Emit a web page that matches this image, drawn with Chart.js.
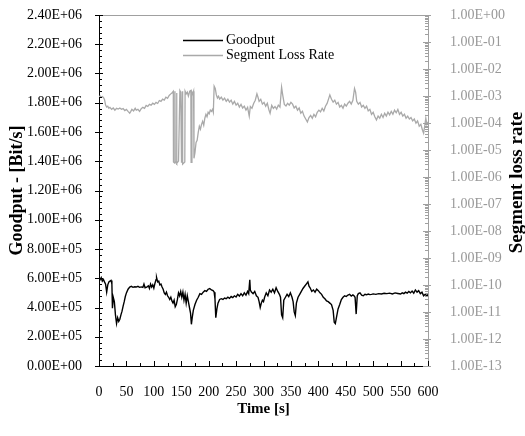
<!DOCTYPE html>
<html><head><meta charset="utf-8">
<script src="https://cdn.jsdelivr.net/npm/chart.js@4/dist/chart.umd.min.js"></script>
<style>html,body{margin:0;padding:0;background:#fff;}</style>
</head><body>
<canvas id="c" width="525" height="436"></canvas>
<script>
// ---- data ----
const goodputTime = [0,2,4,6,8,10,12,14,16,18,20,22,23.5,24.5,26,28,30,32,34,36,38,40,42,44,46,48,50,53,56,59,62,65,68,71,74,77,80,82,84,87,90,92,94,96,98,100,102,104,105,107,109,111,113,115,117,119,121,123,125,127,129,131,133,135,137,139,141,143,145,147,149,151,153,155,157,159,161,163,165,167,168.5,170,172,175,178,181,184,187,190,193,196,199,202,205,208,210,211.5,213,215,217,220,223,226,229,232,235,238,241,244,247,250,253,256,259,262,265,268,271,273,275,276,278,281,284,287,290,292,294,296,298,300,302,305,308,311,314,317,320,323,326,329,331,333,335,337,340,343,346,349,352,354,356,358,360,363,366,369,372,375,378,381,383,385,388,391,394,397,400,403,406,409,412,415,418,421,424,427,429,431,433,436,439,442,445,448,451,454,457,460,463,465,467,469,471,473,476,479,482,485,488,491,494,497,500,505,510,515,520,525,530,535,540,545,550,553,556,559,562,565,568,571,574,577,580,583,586,589,592,595,598,600];
const goodputValues = [600e3,590e3,605e3,580e3,592e3,575e3,560e3,505e3,555e3,575e3,580e3,585e3,560e3,395e3,470e3,440e3,350e3,290e3,330e3,305e3,320e3,350e3,375e3,410e3,440e3,475e3,500e3,525e3,540e3,545e3,538e3,542e3,540e3,545e3,538e3,541e3,537e3,560e3,535e3,540e3,548e3,530e3,560e3,540e3,555e3,532e3,565e3,590e3,605e3,575e3,580e3,555e3,560e3,540e3,525e3,500e3,490e3,505e3,480e3,470e3,455e3,470e3,445e3,430e3,450e3,405e3,420e3,455e3,500e3,480e3,510e3,470e3,505e3,450e3,490e3,430e3,480e3,440e3,400e3,360e3,285e3,330e3,380e3,420e3,450e3,470e3,495e3,490e3,505e3,515e3,510e3,525e3,530e3,520e3,515e3,505e3,460e3,330e3,390e3,430e3,455e3,460e3,455e3,465e3,460e3,470e3,462e3,475e3,468e3,480e3,472e3,490e3,478e3,495e3,480e3,500e3,485e3,510e3,495e3,590e3,520e3,505e3,495e3,510e3,480e3,470e3,440e3,400e3,430e3,450e3,440e3,470e3,500e3,480e3,520e3,505e3,525e3,500e3,535e3,510e3,490e3,470e3,350e3,330e3,450e3,470e3,490e3,475e3,500e3,470e3,440e3,370e3,345e3,430e3,470e3,490e3,510e3,530e3,545e3,560e3,575e3,545e3,535e3,510e3,520e3,505e3,525e3,515e3,500e3,490e3,470e3,460e3,445e3,440e3,430e3,420e3,380e3,300e3,290e3,330e3,390e3,420e3,455e3,470e3,480e3,475e3,485e3,490e3,478e3,486e3,480e3,470e3,355e3,480e3,495e3,500e3,485e3,480e3,490e3,487e3,492e3,488e3,490e3,493e3,490e3,495e3,492e3,497e3,495e3,498e3,493e3,500e3,496e3,492e3,500e3,495e3,505e3,498e3,510e3,500e3,512e3,498e3,520e3,505e3,515e3,495e3,505e3,480e3,490e3,478e3,490e3];

const lossTime = [0,2,4,6,8,10,12,14,16,18,20,23,26,29,32,35,38,41,44,47,50,53,56,58,60,63,66,68,71,74,77,80,83,86,89,92,95,98,101,104,107,110,113,116,119,122,125,128,131,133,135.5,135.8,138,138.5,139,141.2,141.6,142,145,147.5,149,150.5,152,152.5,156.5,157,159,161,163,165.5,167.5,168,169.5,171,172.5,173.2,175,177,179,181,183,185,187,189,191,193,195,197,199,201,203,205,207,208.5,210,212,214,216,218,220,223,226,229,232,235,238,241,244,247,250,253,256,259,262,265,268,271,274,276,279,282,285,288,290,292,295,298,301,304,307,310,312,315,318,321,324,327,330,333,335,338,341,344,347,350,353,356,359,362,365,368,371,374,377,380,383,386,389,392,395,398,401,404,407,410,413,416,419,421,424,427,430,433,436,439,442,445,448,451,454,457,460,463,466,468,470,473,476,479,482,485,488,491,494,497,500,503,506,509,512,515,518,521,524,527,530,533,536,539,542,545,548,551,554,557,560,563,566,569,572,575,578,581,584,587,590,592,594,596,598,600];
const lossValues = [9.0e-4,1.0e-3,9.0e-4,9.6e-4,8.8e-4,7.5e-4,4.6e-4,3.9e-4,4.2e-4,3.5e-4,3.8e-4,3.2e-4,3.6e-4,3.0e-4,3.5e-4,3.3e-4,3.6e-4,3.2e-4,3.4e-4,2.9e-4,3.2e-4,2.7e-4,2.3e-4,2.7e-4,3.2e-4,2.8e-4,3.5e-4,3.0e-4,3.2e-4,2.7e-4,3.4e-4,3.8e-4,3.5e-4,4.5e-4,4.1e-4,4.9e-4,4.6e-4,5.4e-4,4.9e-4,5.8e-4,5.3e-4,6.8e-4,6.3e-4,7.6e-4,7.0e-4,9.0e-4,8.2e-4,1.05e-3,1.2e-3,1.3e-3,1.5e-3,3.6e-6,3.3e-6,1.5e-3,3.8e-6,3.4e-6,1.3e-3,3.2e-6,3.9e-6,1.6e-3,1.4e-3,3.4e-6,1.5e-3,3.0e-6,3.6e-6,1.5e-3,1.2e-3,1.4e-3,1.0e-3,1.5e-3,1.6e-3,3.5e-6,1.4e-3,1.2e-3,1.5e-3,4.9e-6,8.0e-6,1.9e-5,2.3e-5,4.5e-5,7.6e-5,5.9e-5,8.9e-5,1.15e-4,8.3e-5,1.5e-4,2.1e-4,1.7e-4,2.5e-4,2.2e-4,3.0e-4,2.7e-4,3.2e-4,2.5e-4,2.3e-3,1.9e-3,1.1e-3,8.4e-4,9.8e-4,7.7e-4,9.0e-4,7.0e-4,8.3e-4,6.4e-4,7.6e-4,5.9e-4,7.0e-4,5.0e-4,6.3e-4,4.6e-4,5.4e-4,3.9e-4,4.9e-4,3.6e-4,4.2e-4,3.0e-4,3.8e-4,1.8e-4,4.1e-4,3.5e-4,5.3e-4,7.0e-4,1.2e-3,9.0e-4,6.3e-4,7.5e-4,5.0e-4,5.8e-4,4.2e-4,5.4e-4,3.0e-4,2.3e-4,4.5e-4,3.5e-4,4.1e-4,3.3e-4,4.6e-4,3.9e-4,2.1e-3,1.1e-3,4.9e-4,4.3e-4,5.4e-4,4.6e-4,5.8e-4,5.0e-4,3.6e-4,4.2e-4,3.0e-4,3.6e-4,2.3e-4,2.7e-4,1.8e-4,1.4e-4,1.1e-4,1.6e-4,1.9e-4,1.5e-4,2.1e-4,1.7e-4,2.5e-4,3.0e-4,2.6e-4,3.5e-4,2.8e-4,4.2e-4,5.3e-4,8.2e-4,1.1e-3,7.6e-4,5.9e-4,7.0e-4,5.0e-4,5.8e-4,3.9e-4,4.5e-4,3.5e-4,5.0e-4,4.2e-4,5.4e-4,6.3e-4,5.0e-4,6.9e-4,1.9e-3,1.4e-3,6.4e-4,5.0e-4,5.8e-4,3.9e-4,4.5e-4,3.5e-4,4.2e-4,2.8e-4,3.2e-4,2.1e-4,2.5e-4,1.7e-4,1.3e-4,1.8e-4,1.5e-4,2.1e-4,1.6e-4,2.3e-4,1.8e-4,2.5e-4,2.0e-4,2.7e-4,2.1e-4,3.0e-4,2.4e-4,3.2e-4,2.1e-4,2.5e-4,1.8e-4,2.1e-4,1.5e-4,1.8e-4,1.4e-4,1.6e-4,1.2e-4,1.4e-4,9.8e-5,1.2e-4,7.6e-5,8.9e-5,5.4e-5,4.2e-5,7.6e-5,1.5e-4,8.9e-5,1.1e-4];

const seriesNames = ['Goodput', 'Segment Loss Rate'];
const xTickValues = [0,50,100,150,200,250,300,350,400,450,500,550,600];
const leftTickValues = [0,2e5,4e5,6e5,8e5,1e6,1.2e6,1.4e6,1.6e6,1.8e6,2e6,2.2e6,2.4e6];
const rightTickValues = [1e-13,1e-12,1e-11,1e-10,1e-9,1e-8,1e-7,1e-6,1e-5,1e-4,1e-3,1e-2,1e-1,1];

// ---- helpers ----
const FONT = "'Liberation Serif','Times New Roman',serif";
function fmtE(v){
  if (v === 0) return '0.00E+00';
  const s = Number(v).toExponential(2);
  const [m, e] = s.split('e');
  const sign = e[0] === '-' ? '-' : '+';
  const d = e.replace(/^[+-]/, '').padStart(2, '0');
  return m + 'E' + sign + d;
}

const tickPlugin = {
  id: 'ticksAndFrame',
  afterDraw(chart){
    const ctx = chart.ctx;
    const {left, right, top, bottom} = chart.chartArea;
    const xs = chart.scales.x, ys = chart.scales.y, y2 = chart.scales.y2;
    ctx.save();
    ctx.lineWidth = 1;
    // top frame line
    ctx.strokeStyle = '#a0a0a0';
    ctx.beginPath(); ctx.moveTo(left, Math.round(top) + 0.5); ctx.lineTo(right, Math.round(top) + 0.5); ctx.stroke();
    // left axis ticks
    ctx.strokeStyle = '#000';
    ctx.beginPath();
    for (let v = 0; v <= 2.4e6 + 1; v += 4e4) {
      const p = Math.round(ys.getPixelForValue(v)) + 0.5;
      const major = Math.abs(v / 2e5 - Math.round(v / 2e5)) < 1e-6;
      if (major) { ctx.moveTo(left - 4, p); ctx.lineTo(left + 4, p); }
      else { ctx.moveTo(left, p); ctx.lineTo(left + 3, p); }
    }
    ctx.stroke();
    // bottom axis ticks
    ctx.beginPath();
    for (let t = 0; t <= 600; t += 25) {
      const p = Math.round(xs.getPixelForValue(t)) + 0.5;
      const len = (t % 50 === 0) ? 5 : 3;
      ctx.moveTo(p, bottom); ctx.lineTo(p, bottom - len);
    }
    ctx.stroke();
    // right axis ticks (log)
    ctx.strokeStyle = '#a0a0a0';
    ctx.beginPath();
    for (let e = -13; e <= 0; e++) {
      const p = Math.round(y2.getPixelForValue(Math.pow(10, e))) + 0.5;
      ctx.moveTo(right - 5, p); ctx.lineTo(right + 3, p);
      if (e < 0) {
        for (let k = 2; k <= 9; k++) {
          const q = Math.round(y2.getPixelForValue(k * Math.pow(10, e))) + 0.5;
          ctx.moveTo(right - 3, q); ctx.lineTo(right, q);
        }
      }
    }
    ctx.stroke();
    // legend
    ctx.font = '14px ' + FONT;
    ctx.textBaseline = 'middle';
    ctx.textAlign = 'left';
    chart.data.datasets.forEach((ds, i) => {
      const y = Math.round(top + 25 + 15 * i) + 0.5;
      ctx.strokeStyle = ds.borderColor;
      ctx.lineWidth = 1.3;
      ctx.beginPath(); ctx.moveTo(left + 84, y); ctx.lineTo(left + 124, y); ctx.stroke();
      ctx.fillStyle = '#000';
      ctx.fillText(ds.label, left + 127, y);
    });
    // right axis title (reads bottom to top)
    ctx.save();
    ctx.translate(517, (top + bottom) / 2 - 8);
    ctx.rotate(-Math.PI / 2);
    ctx.font = 'bold 19px ' + FONT;
    ctx.textAlign = 'center';
    ctx.fillStyle = '#000';
    ctx.fillText('Segment loss rate', 0, 0);
    ctx.restore();
    ctx.restore();
  }
};

new Chart(document.getElementById('c'), {
  type: 'line',
  data: {
    datasets: [
      {
        label: seriesNames[0],
        data: goodputTime.map((t, i) => ({x: t, y: goodputValues[i]})),
        borderColor: '#000000', borderWidth: 1.4, pointRadius: 0, tension: 0,
        yAxisID: 'y', xAxisID: 'x'
      },
      {
        label: seriesNames[1],
        data: lossTime.map((t, i) => ({x: t, y: lossValues[i]})),
        borderColor: '#a9a9a9', borderWidth: 1.3, pointRadius: 0, tension: 0,
        yAxisID: 'y2', xAxisID: 'x'
      }
    ]
  },
  options: {
    responsive: false,
    animation: false,
    devicePixelRatio: 1,
    layout: { padding: { left: 0, right: 0, top: 15, bottom: 0 } },
    plugins: { legend: { display: false }, tooltip: { enabled: false } },
    scales: {
      x: {
        type: 'linear', position: 'bottom', min: 0, max: 600,
        afterBuildTicks: s => { s.ticks = xTickValues.map(v => ({value: v})); },
        afterFit: s => { s.height = 70; s.paddingLeft = 0; s.paddingRight = 0; },
        ticks: { font: { family: FONT, size: 14 }, color: '#000', padding: 10, maxRotation: 0, autoSkip: false },
        grid: { display: false },
        border: { display: true, color: '#000', width: 1 },
        title: { display: true, text: 'Time [s]', color: '#000', font: { family: FONT, size: 15, weight: 'bold' }, padding: { top: 0, bottom: 18 } }
      },
      y: {
        type: 'linear', position: 'left', min: 0, max: 2.4e6,
        afterBuildTicks: s => { s.ticks = leftTickValues.map(v => ({value: v})); },
        afterFit: s => { s.width = 99; s.paddingTop = 0; s.paddingBottom = 0; },
        ticks: { font: { family: FONT, size: 14 }, color: '#000', padding: 9, autoSkip: false, callback: v => fmtE(v) },
        grid: { display: false },
        border: { display: true, color: '#000', width: 1 },
        title: { display: true, text: 'Goodput - [Bit/s]', color: '#000', font: { family: FONT, size: 18, weight: 'bold' }, padding: { top: 7, bottom: 0 } }
      },
      y2: {
        type: 'logarithmic', position: 'right', min: 1e-13, max: 1,
        afterBuildTicks: s => { s.ticks = rightTickValues.map(v => ({value: v})); },
        afterFit: s => { s.width = 97; s.paddingTop = 0; s.paddingBottom = 0; },
        ticks: { font: { family: FONT, size: 14 }, color: '#999999', padding: 14, autoSkip: false, callback: v => fmtE(v) },
        grid: { display: false },
        border: { display: true, color: '#a0a0a0', width: 1 }
      }
    }
  },
  plugins: [tickPlugin]
});
</script>
</body></html>
